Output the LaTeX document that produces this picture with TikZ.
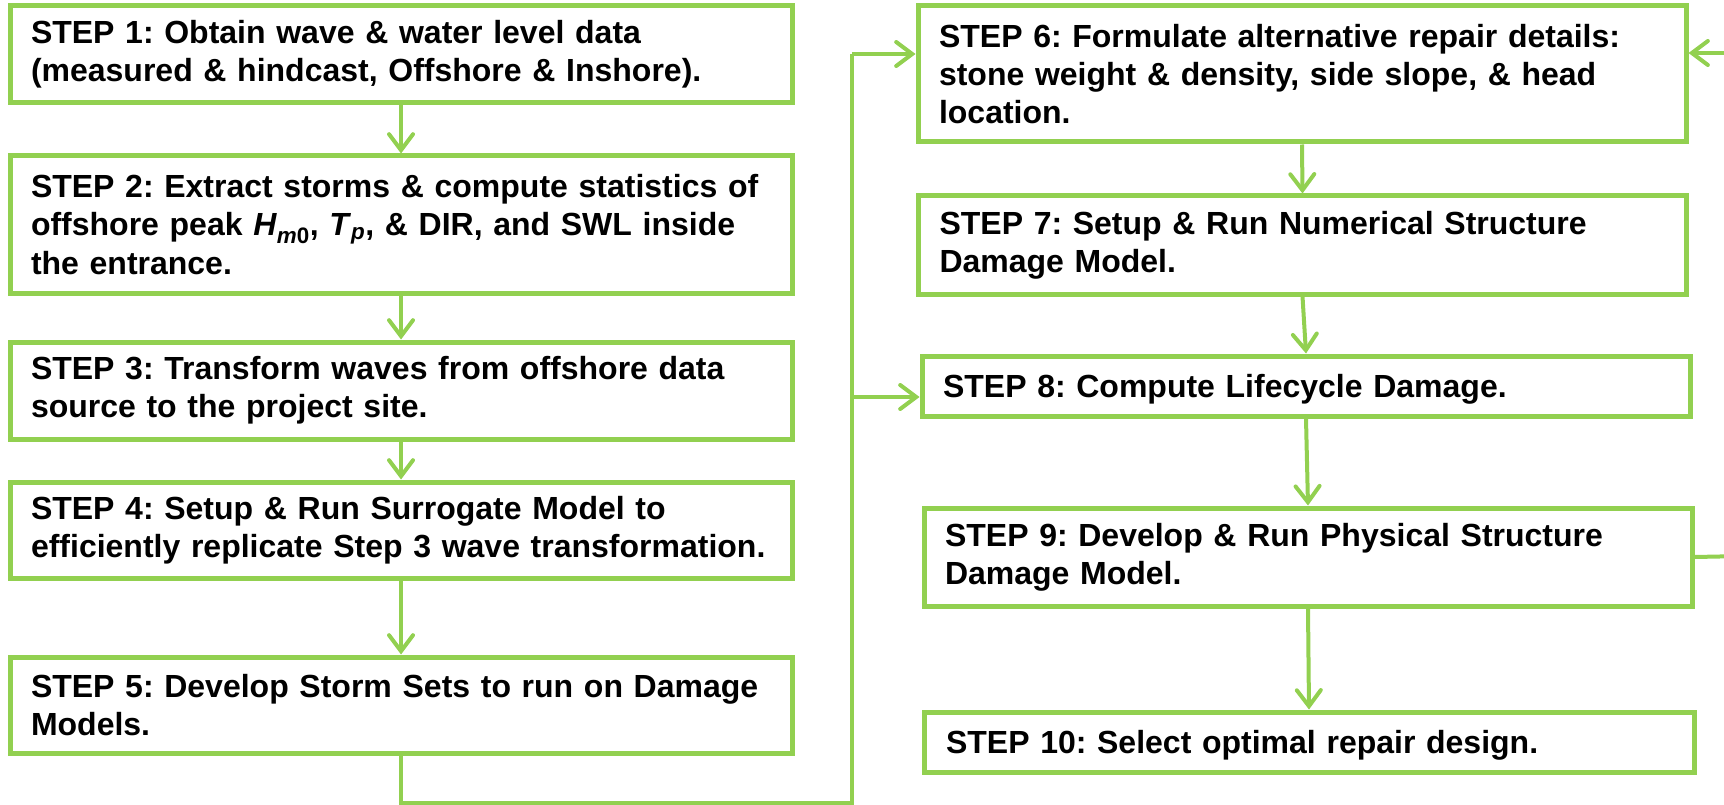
\documentclass[tikz,border=0pt]{standalone}
\usepackage{fontspec}
\setmainfont{Liberation Sans}
\usetikzlibrary{arrows.meta}
\definecolor{stepgreen}{HTML}{92D050}
\frenchspacing
\begin{document}
\begin{tikzpicture}[x=1pt,y=-1pt,
  stepbox/.style={draw=stepgreen, line width=5pt, inner sep=0pt, align=left,
    font=\frenchspacing\bfseries\fontsize{32}{38.4}\selectfont},
  leftbox/.style={stepbox, minimum width=782pt, text width=740pt},
  rightbox/.style={stepbox, minimum width=768pt, text width=726pt},
  flow/.style={draw=stepgreen, line width=4pt,
    -{Straight Barb[length=16pt,width=24pt,line cap=round]}},
  wire/.style={draw=stepgreen, line width=4pt}]
\useasboundingbox (0,0) rectangle (1724,805);
\clip (0,0) rectangle (1724,805);

% left column
\node[leftbox, minimum height=97pt] (s1) at (401,54.5)
  {STEP 1: Obtain wave \& water level data\\(measured \& hindcast, Offshore \& Inshore).};
\node[leftbox, minimum height=137pt] (s2) at (401,224.5)
  {STEP 2: Extract storms \& compute statistics of\\offshore peak \textit{H}\textsubscript{\textit{m}0}, \textit{T}\textsubscript{\textit{p}}, \& DIR, and SWL inside\\the entrance.};
\node[leftbox, minimum height=97pt] (s3) at (401,390.5)
  {STEP 3: Transform waves from offshore data\\source to the project site.};
\node[leftbox, minimum height=96pt] (s4) at (401,530)
  {STEP 4: Setup \& Run Surrogate Model to\\efficiently replicate Step 3 wave transformation.};
\node[leftbox, minimum height=96pt] (s5) at (401,705)
  {STEP 5: Develop Storm Sets to run on Damage\\Models.};

% right column
\node[rightbox, minimum height=136pt] (s6) at (1302,74)
  {STEP 6: Formulate alternative repair details:\\stone weight \& density, side slope, \& head\\location.};
\node[rightbox, minimum height=98pt] (s7) at (1302.5,245)
  {STEP 7: Setup \& Run Numerical Structure\\Damage Model.};
\node[rightbox, minimum height=60pt, text depth=0pt] (s8) at (1306,386)
  {STEP 8: Compute Lifecycle Damage.};
\node[rightbox, minimum height=98pt] (s9) at (1308,557)
  {STEP 9: Develop \& Run Physical Structure\\Damage Model.};
\node[rightbox, minimum height=60pt, minimum width=770pt, text depth=0pt] (s10) at (1309,742)
  {STEP 10: Select optimal repair design.};

% straight links down each column
\draw[flow] (s1.south) -- (s2.north);
\draw[flow] (s2.south) -- (s3.north);
\draw[flow] (s3.south) -- (s4.north);
\draw[flow] (s4.south) -- (s5.north);
\draw[flow] (s6.south) -- (s7.north);
\draw[flow] (s7.south) -- (s8.north);
\draw[flow] (s8.south) -- (s9.north);
\draw[flow] (s9.south) -- (s10.north);

% bus from step 5 up to steps 6 and 8
\coordinate (busB) at (852,803);
\coordinate (bus6) at (852,54);
\coordinate (bus8) at (852,397);
\draw[wire] (s5.south) -- (s5.south |- busB) -- (busB) -- (bus6);
\draw[flow] (bus6) -- (s6.west |- bus6);
\draw[flow] (bus8) -- (s8.west |- bus8);

% feedback from step 9 back to step 6
\coordinate (fbA) at (1745,556);
\coordinate (fbB) at (1745,53);
\draw[wire] (s9.east) -- (fbA) -- (fbB);
\draw[flow] (fbB) -- (s6.east |- fbB);
\end{tikzpicture}
\end{document}
